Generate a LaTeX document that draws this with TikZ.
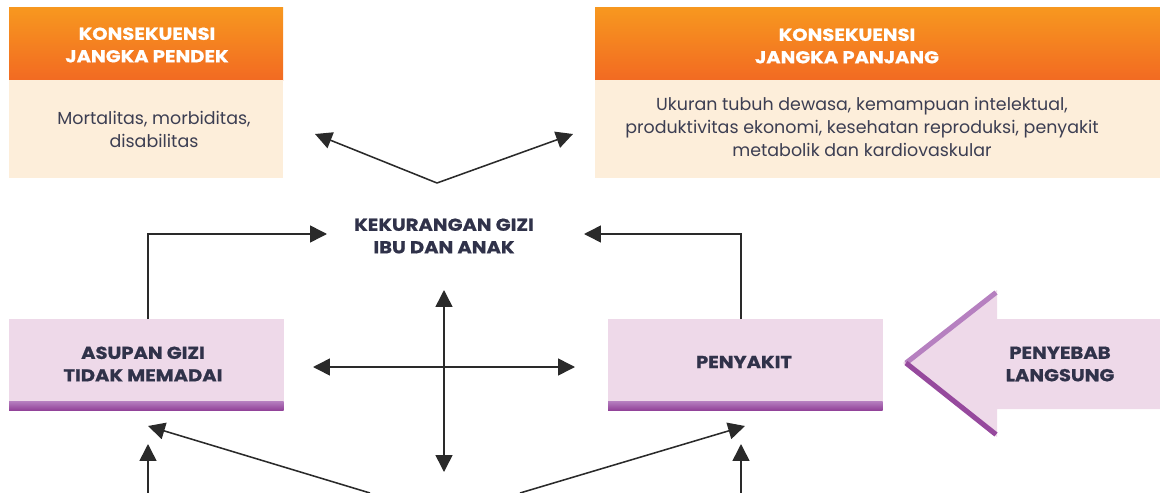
\documentclass[tikz,border=0pt]{standalone}
\usepackage{fontspec}
\setmainfont{Poppins}[BoldFeatures={FakeStretch=1.13,FakeBold=0.8}]
\usepackage{tikz}
\usetikzlibrary{calc,arrows.meta,positioning}
\definecolor{orangeA}{HTML}{F7981F}
\definecolor{orangeB}{HTML}{F26A22}
\definecolor{cream}{HTML}{FDEEDA}
\definecolor{pinkbox}{HTML}{EED9E9}
\definecolor{stripeA}{HTML}{B680C0}
\definecolor{stripeB}{HTML}{924399}
\definecolor{ink}{HTML}{2A2A2A}
\definecolor{txt}{HTML}{30324A}
\tikzset{
  hdr/.style={text=white, font=\bfseries\fontsize{12.3}{16}\selectfont, align=center},
  lbl/.style={text=txt, font=\bfseries\fontsize{12.3}{16}\selectfont, align=center},
  bdy/.style={text=txt!85!gray, font=\fontsize{12.4}{16.3}\selectfont, align=center},
  arr/.style={draw=ink, line width=1.1pt, -{Triangle[length=12pt,width=12pt]}},
  dbl/.style={draw=ink, line width=1.1pt, {Triangle[length=12pt,width=12pt]}-{Triangle[length=12pt,width=12pt]}},
}

\begin{document}
\begin{tikzpicture}[x=0.025cm,y=-0.025cm]
		\useasboundingbox (0,0) rectangle (1160,493);
		% konsekuensi boxes
		\shade[top color=orangeA,bottom color=orangeB] (9,7) rectangle (283,80);
		\fill[cream] (9,80) rectangle (283,178);
		\shade[top color=orangeA,bottom color=orangeB] (595,7) rectangle (1160,80);
		\fill[cream] (595,80) rectangle (1160,178);
		\node[hdr] (pendekH) at (147,45) {KONSEKUENSI\\JANGKA PENDEK};
		\node[bdy] (pendek) at (154,129.5) {Mortalitas, morbiditas,\\disabilitas};
		\node[hdr] (panjangH) at (847,46) {KONSEKUENSI\\JANGKA PANJANG};
		\node[bdy] (panjang) at (862,127) {Ukuran tubuh dewasa, kemampuan intelektual,\\produktivitas ekonomi, kesehatan reproduksi, penyakit\\metabolik dan kardiovaskular};
		% penyebab langsung
		\foreach \x in {9,608}
		\fill[pinkbox] (\x,319) rectangle +(274.5,91);
		\foreach \x in {9,608}
		\shade[top color=stripeA,bottom color=stripeB] (\x,401) rectangle +(274.5,9);
		\node[lbl] (asupan) at (143,364) {ASUPAN GIZI\\TIDAK MEMADAI};
		\node[lbl] (sakit) at (744,362) {PENYAKIT};
		\fill[pinkbox] (1160,319) -- (997,319) -- (997,290) -- (903,363) -- (997,437) -- (997,409) -- (1160,409) -- cycle;
		\draw[stripeA,line width=3.6pt] (996,292.5) -- (906,363);
		\draw[stripeB!90!stripeA,line width=3.6pt] (906,363) -- (996,434.5);
		\node[lbl] (penyebab) at (1060,364) {PENYEBAB\\LANGSUNG};
		\node[lbl] (kurang) at (444,236) {KEKURANGAN GIZI\\IBU DAN ANAK};
		% arrows
		\coordinate (apex) at (437,183);
		\coordinate (tipL) at (315,134);
		\coordinate (tipR) at (573,134);
		\draw[arr] (apex) -- (tipL);
		\draw[arr] (apex) -- (tipR);
		\coordinate (asupanTop) at (148,319);
		\coordinate (sakitTop) at (741,319);
		\coordinate (inL) at (327,234);
		\coordinate (inR) at (584,234);
		\draw[arr] (asupanTop) |- (inL);
		\draw[arr] (sakitTop) |- (inR);
		\coordinate (xN) at (444,290);
		\coordinate (xS) at (444,472);
		\coordinate (xW) at (313,367);
		\coordinate (xE) at (575,367);
		\draw[dbl] (xN) -- (xS);
		\draw[dbl] (xW) -- (xE);
		% from below
		\foreach \x in {148,741}
		\draw[arr] (\x,493) -- (\x,444);
		\coordinate (dL) at (370,493);
		\coordinate (dR) at (520,493);
		\draw[arr] (dL) -- (148,426);
		\draw[arr] (dR) -- (745,426);
	\end{tikzpicture}
\end{document}
